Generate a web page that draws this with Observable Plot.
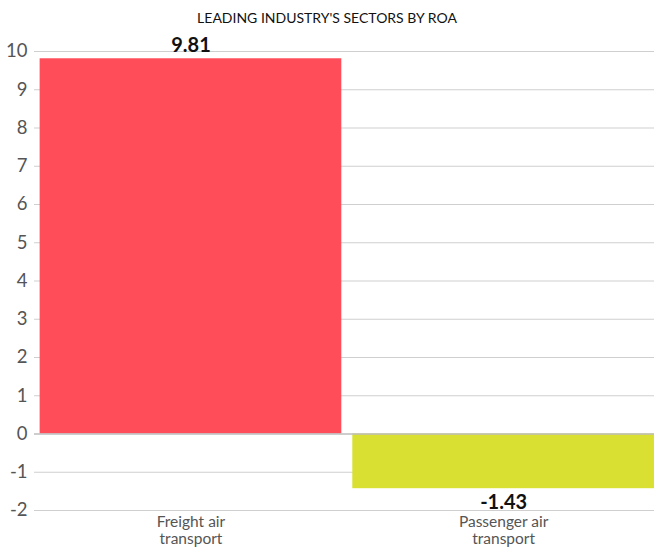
<!DOCTYPE html>
<html>
<head>
<meta charset="utf-8">
<script src="https://cdn.jsdelivr.net/npm/d3@7"></script>
<script src="https://cdn.jsdelivr.net/npm/@observablehq/plot@0.6"></script>
<style>
  body { margin: 0; background: #fff; font-family: Lato, "Open Sans", sans-serif; overflow: hidden; }
  #title { height: 30px; box-sizing: border-box; padding-top: 10px; text-align: center; font-size: 14px; line-height: 16px; color: #111; width: 654px; }
  #chart svg { display: block; }
</style>
</head>
<body>
<div id="title">LEADING INDUSTRY'S SECTORS BY ROA</div>
<div id="chart"></div>
<script>
const categories = ["Freight air\ntransport", "Passenger air\ntransport"];
const values = [9.81, -1.43];
const colors = ["#FF4D5A", "#D9E032"];
const yTicks = [-2, -1, 0, 1, 2, 3, 4, 5, 6, 7, 8, 9, 10];

const data = categories.map((c, i) => ({ category: c, value: values[i], color: colors[i] }));

const chart = Plot.plot({
  width: 654,
  height: 518,
  marginTop: 21,
  marginBottom: 38,
  marginLeft: 34,
  marginRight: 0,
  style: { fontFamily: "Lato, 'Open Sans', sans-serif", background: "#fff" },
  x: { domain: categories, range: [34, 659.6], paddingInner: 0.0352, paddingOuter: 0.018, round: false, label: null },
  y: { domain: [-2, 10], ticks: yTicks, label: null },
  color: { type: "identity" },
  marks: [
    Plot.ruleY(yTicks.filter(d => d !== 0), { stroke: "#cfcfcf", strokeWidth: 1, strokeOpacity: 1 }),
    Plot.barY(data, { x: "category", y: "value", fill: "color" }),
    Plot.ruleY([0], { stroke: "#bdbdbd", strokeWidth: 1.5 }),
    Plot.axisY({ ticks: yTicks, tickSize: 0, tickPadding: 7, fontSize: 18.5, fill: "#555", tickFormat: d => String(d), label: null }),
    Plot.axisX({ tickSize: 0, tickPadding: 4, fontSize: 15.5, fill: "#555", lineHeight: 1.12, label: null }),
    Plot.text(data, {
      x: "category", y: "value", text: d => d.value.toFixed(2),
      fontSize: 20, fontWeight: "bold", fill: "#111",
      filter: d => d.value >= 0, dy: -13
    }),
    Plot.text(data, {
      x: "category", y: "value", text: d => d.value.toFixed(2),
      fontSize: 20, fontWeight: "bold", fill: "#111",
      filter: d => d.value < 0, dy: 14
    })
  ]
});
document.getElementById("chart").appendChild(chart);
</script>
</body>
</html>
